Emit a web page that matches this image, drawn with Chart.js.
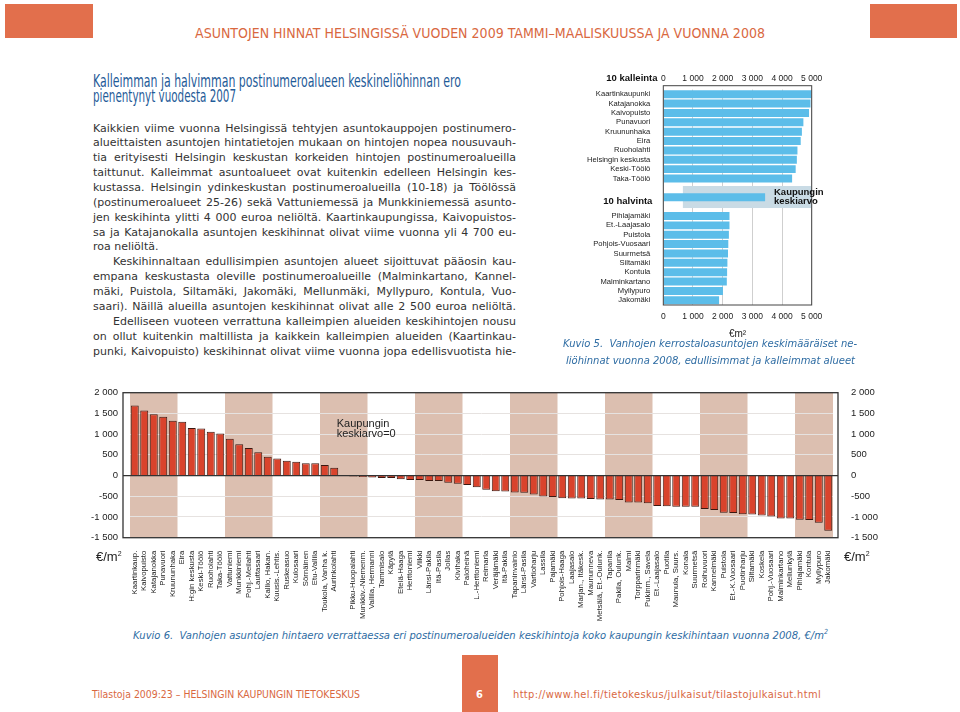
<!DOCTYPE html>
<html>
<head>
<meta charset="utf-8">
<script src="https://cdn.jsdelivr.net/npm/chart.js@4.4.0/dist/chart.umd.min.js"></script>
<style>
  html, body { margin: 0; padding: 0; background: #fff; }
  body { position: relative; width: 960px; height: 712px; overflow: hidden; font-family: "DejaVu Sans", Verdana, sans-serif; }
  .abs { position: absolute; white-space: nowrap; }
  .orange { background: #e26f4c; }
  .cond { font-family: "Liberation Sans Narrow", "DejaVu Sans Condensed", sans-serif; }
  .head { color: #d9683f; font-size: 14px; line-height: 16px; }
  .title { color: #1f5c99; font-size: 18px; line-height: 15px; }
  .body { color: #333; font-size: 11px; line-height: 15px; }
  .cap { color: #2e6ca3; font-style: italic; font-size: 11px; line-height: 14px; }
  .foot { color: #d9683f; font-size: 11px; line-height: 13px; }
  .unit { font-family: "Liberation Sans", Arial, sans-serif; font-size: 13px; color: #222; }
  .unit sup { font-size: 7px; }
</style>
</head>
<body>

<div class="abs orange" style="left:5px; top:4px; width:88px; height:34px;"></div>
<div class="abs orange" style="left:870px; top:4px; width:87px; height:34px;"></div>
<div class="abs cond head fit" data-w="570" data-mode="ls" style="left:195px; top:25px;">ASUNTOJEN HINNAT HELSINGISSÄ VUODEN 2009 TAMMI–MAALISKUUSSA JA VUONNA 2008</div>

<div class="abs cond title fit" data-w="368" style="left:93px; top:73px;">Kalleimman ja halvimman postinumeroalueen keskineliöhinnan ero</div>
<div class="abs cond title fit" data-w="143" style="left:93px; top:88px;">pienentynyt vuodesta 2007</div>

<div id="bodyText"></div>

<div class="abs" style="left:578px; top:65px; width:262px; height:275px;"><canvas id="rankChart"></canvas></div>
<div class="abs cap fit" data-w="294" data-mode="ws" style="left:563px; top:337px;">Kuvio 5.&nbsp; Vanhojen kerrostaloasuntojen keskimääräiset ne-</div>
<div class="abs cap fit" data-w="289" data-mode="ws" style="left:566px; top:354px;">liöhinnat vuonna 2008, edullisimmat ja kalleimmat alueet</div>

<div class="abs" style="left:80px; top:375px; width:800px; height:250px;"><canvas id="diffChart"></canvas></div>
<div class="abs unit" style="left:96px; top:549px;">€/m<sup>2</sup></div>
<div class="abs unit" style="left:844px; top:549px;">€/m<sup>2</sup></div>
<div class="abs cap fit" data-w="695" data-mode="ws" style="left:133px; top:625px;">Kuvio 6.&nbsp; Vanhojen asuntojen hintaero verrattaessa eri postinumeroalueiden keskihintoja koko kaupungin keskihintaan vuonna 2008, €/m<sup style="font-size:7px">2</sup></div>

<div class="abs orange" style="left:462px; top:655px; width:36px; height:57px;"></div>
<div class="abs cond foot" style="left:476px; top:688px; color:#fff; font-weight:bold;">6</div>
<div class="abs cond foot fit" data-w="268" data-mode="ls" style="left:92px; top:688px;">Tilastoja 2009:23 – HELSINGIN KAUPUNGIN TIETOKESKUS</div>
<div class="abs cond foot fit" data-w="308" data-mode="ls" style="left:513px; top:688px;">http://www.hel.fi/tietokeskus/julkaisut/tilastojulkaisut.html</div>

<script>
// Kuvio 5: 10 most and 10 least expensive areas, €/m2
const topNames = ['Kaartinkaupunki', 'Katajanokka', 'Kaivopuisto', 'Punavuori', 'Kruununhaka',
  'Eira', 'Ruoholahti', 'Helsingin keskusta', 'Keski-Töölö', 'Taka-Töölö'];
const topValues = [4990, 4960, 4910, 4720, 4670, 4630, 4520, 4500, 4460, 4340];
const cityAverage = 3430;
const bottomNames = ['Pihlajamäki', 'Et.-Laajasalo', 'Puistola', 'Pohjois-Vuosaari', 'Suurmetsä',
  'Siltamäki', 'Kontula', 'Malminkartano', 'Myllypuro', 'Jakomäki'];
const bottomValues = [2230, 2230, 2210, 2190, 2180, 2160, 2150, 2140, 2010, 1880];
const rankTicks = [0, 1000, 2000, 3000, 4000, 5000];

// Kuvio 6: difference to city average, €/m2
const diffNames = ['Kaartinkaup.', 'Kaivopuisto', 'Katajanokka', 'Punavuori', 'Kruununhaka',
  'Eira', 'H:gin keskusta', 'Keski-Töölö', 'Ruoholahti', 'Taka-Töölö',
  'Vattuniemi', 'Munkkiniemi', 'Pohj.-Meilahti', 'Lauttasaari', 'Kallio, Hakan.',
  'Kuusis.-Lehtis.', 'Ruskeasuo', 'Kulosaari', 'Sörnäinen', 'Etu-Vallila',
  'Toukola, Vanha k.', 'Aurinkolahti', '', 'Pikku-Huopalahti', 'Munkkiv.-Niemenm.',
  'Vallila, Hermanni', 'Tammisalo', 'Käpylä', 'Etelä-Haaga', 'Herttoniemi',
  'Viikki', 'Länsi-Pakila', 'Itä-Pasila', 'Jollas', 'Kivihaka',
  'Paloheinä', 'L.-Herttoniemi', 'Reimarla', 'Veräjämäki', 'Itä-Pakila',
  'Tapaninvainio', 'Länsi-Pasila', 'Vartioharju', 'Lassila', 'Pajamäki',
  'Pohjois-Haaga', 'Laajasalo', 'Marjan., Itäkesk.', 'Maununneva', 'Metsälä, Et.-Oulunk.',
  'Tapanila', 'Pakila, Oulunk.', 'Malmi', 'Torpparinmäki', 'Pukinm., Savela',
  'Et.-Laajasalo', 'Puotila', 'Maunula, Suurs.', 'Konala', 'Suurmetsä',
  'Roihuvuori', 'Kannelmäki', 'Puistola', 'Et.-K.Vuosaari', 'Puotinharju',
  'Siltamäki', 'Koskela', 'Pohj.-Vuosaari', 'Malminkartano', 'Mellunkylä',
  'Pihlajamäki', 'Kontula', 'Myllypuro', 'Jakomäki'];
const diffValues = [1690, 1570, 1480, 1420, 1320, 1300, 1150, 1135, 1060, 1015,
  890, 755, 665, 565, 455, 410, 355, 335, 300, 300,
  255, 190, null, -20, -35, -45, -60, -60, -90, -110,
  -110, -130, -130, -175, -195, -225, -285, -340, -380, -385,
  -410, -415, -455, -505, -515, -550, -555, -555, -565, -575,
  -580, -590, -650, -650, -670, -735, -740, -750, -755, -755,
  -810, -830, -900, -905, -935, -940, -965, -990, -1035, -1035,
  -1065, -1075, -1140, -1330];
const diffMin = -1500, diffMax = 2000, diffStep = 500;

const bodyLines = [
  'Kaikkien viime vuonna Helsingissä tehtyjen asuntokauppojen postinumero-',
  'alueittaisten asuntojen hintatietojen mukaan on hintojen nopea nousuvauh-',
  'tia erityisesti Helsingin keskustan korkeiden hintojen postinumeroalueilla',
  'taittunut. Kalleimmat asuntoalueet ovat kuitenkin edelleen Helsingin kes-',
  'kustassa. Helsingin ydinkeskustan postinumeroalueilla (10-18) ja Töölössä',
  '(postinumeroalueet 25-26) sekä Vattuniemessä ja Munkkiniemessä asunto-',
  'jen keskihinta ylitti 4 000 euroa neliöltä. Kaartinkaupungissa, Kaivopuistos-',
  'sa ja Katajanokalla asuntojen keskihinnat olivat viime vuonna yli 4 700 eu-',
  'roa neliöltä.',
  '\tKeskihinnaltaan edullisimpien asuntojen alueet sijoittuvat pääosin kau-',
  'empana keskustasta oleville postinumeroalueille (Malminkartano, Kannel-',
  'mäki, Puistola, Siltamäki, Jakomäki, Mellunmäki, Myllypuro, Kontula, Vuo-',
  'saari). Näillä alueilla asuntojen keskihinnat olivat alle 2 500 euroa neliöltä.',
  '\tEdelliseen vuoteen verrattuna kalleimpien alueiden keskihintojen nousu',
  'on ollut kuitenkin maltillista ja kaikkein kalleimpien alueiden (Kaartinkau-',
  'punki, Kaivopuisto) keskihinnat olivat viime vuonna jopa edellisvuotista hie-'
];

// text block
const bodyBox = document.getElementById('bodyText');
bodyLines.forEach((line, i) => {
  const indent = line.startsWith('\t');
  const d = document.createElement('div');
  d.className = 'abs body' + (i === 8 ? '' : ' fit');
  d.dataset.mode = 'ws';
  d.dataset.w = indent ? 403 : 423;
  d.style.left = (indent ? 113 : 93) + 'px';
  d.style.top = (120.5 + i * 14.87) + 'px';
  d.textContent = line.replace('\t', '');
  bodyBox.appendChild(d);
});

function fitText(el) {
  const w = +el.dataset.w;
  el.style.display = 'inline-block';
  const nat = el.getBoundingClientRect().width;
  if (nat > w) {
    el.style.transformOrigin = 'left top';
    el.style.transform = 'scaleX(' + (w / nat) + ')';
  } else if (el.dataset.mode === 'ls') {
    el.style.letterSpacing = ((w - nat) / el.textContent.length) + 'px';
  } else if (el.dataset.mode === 'ws') {
    const gaps = (el.textContent.match(/ /g) || []).length || 1;
    el.style.wordSpacing = ((w - nat) / gaps) + 'px';
  }
}
document.querySelectorAll('.fit').forEach(fitText);

const fmt = v => (v < 0 ? '-' : '') + String(Math.abs(v)).replace(/\B(?=(\d{3})+(?!\d))/g, ' ');

Chart.defaults.font.family = '"Liberation Sans", Arial, sans-serif';
Chart.defaults.color = '#222';

// ---- Kuvio 5 ----
const rankLabels = [...topNames, '', '', '', ...bottomNames];
const rankValues = [...topValues, null, cityAverage, null, ...bottomValues];

const rankPlugin = {
  id: 'rankDecor',
  beforeDatasetsDraw(chart) {
    const { ctx, chartArea: a, scales: { x, y } } = chart;
    ctx.save();
    ctx.fillStyle = '#c9dbe5';
    const y0 = y.getPixelForValue(9.8), y1 = y.getPixelForValue(12.15);
    ctx.fillRect(x.getPixelForValue(660), y0, a.right - x.getPixelForValue(660), y1 - y0);
    ctx.restore();
  },
  afterDraw(chart) {
    const { ctx, chartArea: a, scales: { x, y } } = chart;
    ctx.save();
    ctx.strokeStyle = '#444';
    ctx.lineWidth = 1;
    ctx.strokeRect(a.left, a.top - 3.8, a.right - a.left, a.bottom - a.top + 3.8);
    ctx.fillStyle = '#111';
    ctx.font = 'bold 9.5px "Liberation Sans", Arial, sans-serif';
    ctx.textBaseline = 'middle';
    ctx.textAlign = 'left';
    ctx.fillText('10 kalleinta', a.left - 57, 13.5);
    ctx.fillText('10 halvinta', a.left - 60, y.getPixelForValue(11.4));
    const tx = x.getPixelForValue(3730);
    ctx.fillText('Kaupungin', tx, y.getPixelForValue(10.45));
    ctx.fillText('keskiarvo', tx, y.getPixelForValue(11.4));
    ctx.restore();
  }
};

const rankTickOpts = { stepSize: 1000, callback: v => fmt(v), font: { size: 8.5 }, color: '#222' };

new Chart(document.getElementById('rankChart'), {
  type: 'bar',
  data: {
    labels: rankLabels,
    datasets: [{ data: rankValues, backgroundColor: '#5cbde9', barPercentage: 0.85, categoryPercentage: 1 }]
  },
  options: {
    indexAxis: 'y',
    responsive: true, maintainAspectRatio: false, animation: false,
    layout: { padding: { right: 28.3 } },
    plugins: { legend: { display: false }, tooltip: { enabled: false } },
    scales: {
      x: {
        type: 'linear', position: 'bottom', min: rankTicks[0], max: rankTicks[rankTicks.length - 1],
        ticks: { ...rankTickOpts, padding: 7 },
        grid: { color: '#cfcfcf', drawTicks: false },
        border: { display: false },
        title: { display: true, text: '€m²', font: { size: 10 }, color: '#222', padding: 0 },
        afterFit: s => { s.height = 35; }
      },
      x2: {
        type: 'linear', position: 'top', min: rankTicks[0], max: rankTicks[rankTicks.length - 1],
        ticks: { ...rankTickOpts, padding: 6 },
        grid: { display: false, drawTicks: false },
        border: { display: false },
        afterFit: s => { s.height = 24.5; }
      },
      y: {
        ticks: { autoSkip: false, font: { size: 7.6 }, color: '#222', padding: 5 },
        grid: { display: false },
        border: { display: false },
        afterFit: s => { s.width = 85.3; }
      }
    }
  },
  plugins: [rankPlugin]
});

// ---- Kuvio 6 ----
const bandPlugin = {
  id: 'bands',
  beforeDraw(chart) {
    const { ctx, chartArea: a, scales: { x } } = chart;
    const half = (x.getPixelForValue(1) - x.getPixelForValue(0)) / 2;
    ctx.save();
    ctx.fillStyle = '#dcbfb0';
    for (let g = 0; g < diffNames.length; g += 10) {
      const last = Math.min(g + 4, diffNames.length - 1);
      const x0 = x.getPixelForValue(g) - half, x1 = x.getPixelForValue(last) + half;
      ctx.fillRect(x0, a.top, x1 - x0, a.bottom - a.top);
    }
    ctx.restore();
  },
  afterDraw(chart) {
    const { ctx, chartArea: a, scales: { x, y } } = chart;
    const left = a.left - 7, right = a.right + 5;
    ctx.save();
    ctx.strokeStyle = '#333';
    ctx.lineWidth = 1.3;
    ctx.strokeRect(left, a.top, right - left, a.bottom - a.top);
    const z = y.getPixelForValue(0);
    ctx.beginPath();
    ctx.moveTo(left, z);
    ctx.lineTo(right, z);
    ctx.stroke();
    ctx.fillStyle = '#222';
    ctx.font = '11px "Liberation Sans", Arial, sans-serif';
    ctx.textBaseline = 'middle';
    ctx.textAlign = 'left';
    const tx = x.getPixelForValue(21.26);
    ctx.fillText('Kaupungin', tx, y.getPixelForValue(1250));
    ctx.fillText('keskiarvo=0', tx, y.getPixelForValue(995));
    ctx.restore();
  }
};

const diffTickOpts = { stepSize: diffStep, callback: v => fmt(v), font: { size: 9.5 }, color: '#222' };

new Chart(document.getElementById('diffChart'), {
  type: 'bar',
  data: {
    labels: diffNames,
    datasets: [{
      data: diffValues,
      backgroundColor: '#d9432c', borderColor: '#3b1810', borderWidth: 1,
      barPercentage: 0.84, categoryPercentage: 1
    }]
  },
  options: {
    responsive: true, maintainAspectRatio: false, animation: false,
    layout: { padding: { top: 8.3 } },
    plugins: { legend: { display: false }, tooltip: { enabled: false } },
    scales: {
      x: {
        ticks: { autoSkip: false, minRotation: 90, maxRotation: 90, font: { size: 7.8 }, color: '#222', padding: 5 },
        grid: { display: false },
        border: { display: false },
        afterFit: s => { s.height = 87.3; }
      },
      y: {
        position: 'left', min: diffMin, max: diffMax,
        ticks: { ...diffTickOpts, padding: 12 },
        grid: { color: '#e6e2e0', drawTicks: false },
        border: { display: false },
        afterFit: s => { s.width = 50; }
      },
      y2: {
        position: 'right', min: diffMin, max: diffMax,
        ticks: { ...diffTickOpts, padding: 10 },
        grid: { display: false },
        border: { display: false },
        afterFit: s => { s.width = 47; }
      }
    }
  },
  plugins: [bandPlugin]
});
</script>
</body>
</html>
